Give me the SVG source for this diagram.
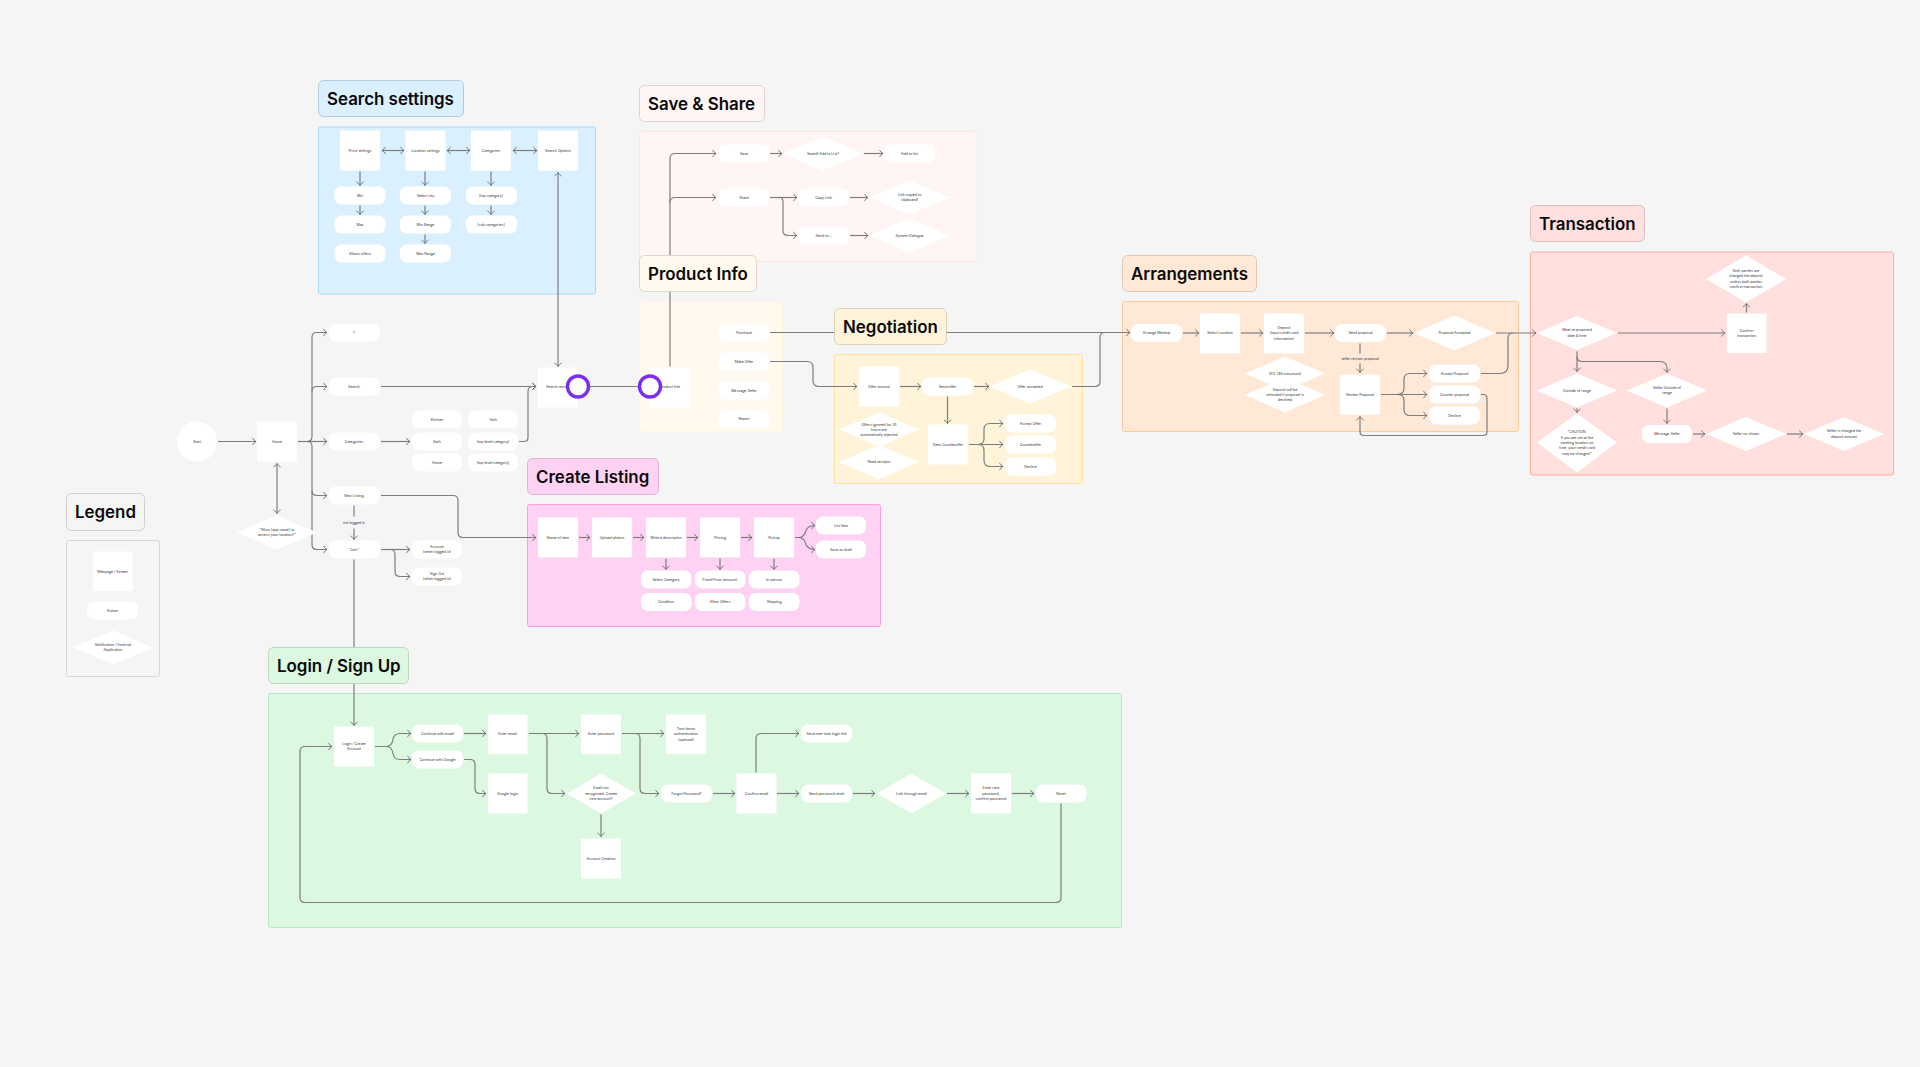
<svg xmlns="http://www.w3.org/2000/svg" width="1920" height="1067" viewBox="0 0 1920 1067">
<defs>
<marker id="a" markerUnits="userSpaceOnUse" markerWidth="6" markerHeight="10" refX="4.6" refY="5" orient="auto-start-reverse"><path d="M1 1.4 Q2.6 4 4.6 5 Q2.6 6 1 8.6" fill="none" stroke="#6f6f6f" stroke-width="0.9"/></marker>
</defs>
<style>
text{font-family:Inter,"Noto Sans","Liberation Sans",sans-serif}
.t{font-size:3.55px;fill:#333;text-anchor:middle;dominant-baseline:central}
.h{font-size:16.9px;font-weight:600;fill:#0a0a0a;dominant-baseline:central;transform:translateY(.2px)}
.s,.p,.d,.c{fill:#fff}
.s{rx:1px}
.p{rx:7px}
.l{stroke-width:1;rx:5px}
.g{stroke-width:1;rx:2px}
#conn path{fill:none;stroke:#7d7d7d;stroke-width:1.2}
.e{marker-end:url(#a)}
.b{marker-start:url(#a);marker-end:url(#a)}
.o{fill:#fff;stroke:#7c2df0;stroke-width:3.4}
</style>
<rect width="1920" height="1067" fill="#f5f5f5"/>
<g id="panels">
<rect id="panel-search" class="g" x="318.500" y="127" width="277" height="167" fill="#dbf0ff" stroke="#a9d9fd"/>
<rect id="panel-save" class="g" x="639.500" y="131.500" width="338" height="130" fill="#fff5f4" stroke="#ffe6e3"/>
<rect id="panel-product" class="g" x="639.500" y="302.500" width="143" height="129" fill="#fffaed" stroke="#fff6df"/>
<rect id="panel-negotiation" class="g" x="834.500" y="354.500" width="248" height="129" fill="#fff4d9" stroke="#ffe09e"/>
<rect id="panel-arrangements" class="g" x="1122.500" y="301.500" width="396" height="130" fill="#ffe9d6" stroke="#fbcb9c"/>
<rect id="panel-transaction" class="g" x="1530.500" y="252" width="363" height="223" fill="#ffe0de" stroke="#ffa99c"/>
<rect id="panel-create" class="g" x="527.500" y="504.500" width="353" height="122" fill="#ffd2f3" stroke="#ff9fdc"/>
<rect id="panel-login" class="g" x="268.500" y="693.500" width="853" height="234" fill="#dcf8e0" stroke="#b7e8c2"/>
<rect id="panel-legend" class="g" x="66.500" y="540.500" width="93" height="136" fill="#f5f5f5" stroke="#d8d8d8"/>
</g>
<g id="conn" transform="translate(0 .5)">
<path class="b" d="M382 150H404"/>
<path class="b" d="M447 150H470"/>
<path class="b" d="M513 150H537"/>
<path class="e" d="M360 171V185"/>
<path class="e" d="M425 171V185"/>
<path class="e" d="M491 171V185"/>
<path class="e" d="M360 205V214"/>
<path class="e" d="M425 205V214"/>
<path class="e" d="M425 234V243"/>
<path class="e" d="M491 205V214"/>
<path class="b" d="M558 366V172"/>
<path d="M578 386H650"/>
<path class="e" d="M670 366V158Q670 153 675 153H716"/>
<path class="e" d="M670 202Q670 197 675 197H716"/>
<path class="e" d="M770 153H782"/>
<path class="e" d="M864 153H883"/>
<path class="e" d="M770 197H797"/>
<path class="e" d="M780 197Q783 197 783 202V230Q783 235 788 235H797"/>
<path class="e" d="M850 197H868"/>
<path class="e" d="M850 235H868"/>
<path class="e" d="M218 441H256"/>
<path class="b" d="M277 463V513"/>
<path class="e" d="M298 441H307Q312 441 312 436V337Q312 332 317 332H327"/>
<path class="e" d="M312 391Q312 386 317 386H327"/>
<path class="e" d="M298 441H327"/>
<path class="e" d="M307 441Q312 441 312 446V544Q312 549 317 549H327"/>
<path class="e" d="M312 490Q312 495 317 495H327"/>
<path class="e" d="M381 386H536"/>
<path class="e" d="M381 441H410"/>
<path class="e" d="M519 441H524Q528 441 528 437V391Q528 386 533 386H536"/>
<path class="e" d="M381 495H453Q458 495 458 500V532Q458 537 463 537H536"/>
<path d="M354 505V516"/>
<path class="e" d="M354 528V539"/>
<path class="e" d="M381 549H410"/>
<path class="e" d="M390 549Q395 549 395 554V571Q395 576 400 576H410"/>
<path class="e" d="M354 559V725"/>
<path class="e" d="M770 332H1130"/>
<path class="e" d="M770 361H807Q813 361 813 367V380Q813 386 819 386H857"/>
<path class="e" d="M900 386H921"/>
<path class="e" d="M974 386H989"/>
<path class="e" d="M947.500 396V423"/>
<path d="M1072 386H1095Q1100 386 1100 381V337Q1100 332 1105 332"/>
<path class="e" d="M969 444H1003"/>
<path class="e" d="M978 444Q984 444 984 438V429Q984 423 990 423H1003"/>
<path class="e" d="M978 444Q984 444 984 450V460Q984 466 990 466H1003"/>
<path class="e" d="M1183 332.500H1199"/>
<path class="e" d="M1241 332.500H1263"/>
<path class="e" d="M1305 332.500H1334"/>
<path class="e" d="M1387 332.500H1413"/>
<path d="M1360 343V353"/>
<path class="e" d="M1360 363V372"/>
<path class="e" d="M1381 394H1427"/>
<path class="e" d="M1397 394Q1404 394 1404 388V379Q1404 373 1410 373H1427"/>
<path class="e" d="M1397 394Q1404 394 1404 400V409Q1404 415 1410 415H1427"/>
<path d="M1481 373H1500Q1508 373 1508 365V338Q1508 332.500 1513 332.500"/>
<path class="e" d="M1496 332.500H1536"/>
<path class="e" d="M1481 394H1483Q1487 394 1487 398V431Q1487 435 1483 435H1364Q1360 435 1360 431V416"/>
<path class="e" d="M1618 332.500H1725"/>
<path class="e" d="M1746.500 312V303"/>
<path class="e" d="M1577 351V371"/>
<path class="e" d="M1577 356Q1577 361 1582 361H1660Q1667 361 1667 368V372"/>
<path class="e" d="M1577 408V412"/>
<path class="e" d="M1667 408V423"/>
<path class="e" d="M1693 433.500H1705"/>
<path class="e" d="M1787 433.500H1803"/>
<path class="e" d="M579 537H590"/>
<path class="e" d="M633 537H644"/>
<path class="e" d="M687 537H698"/>
<path class="e" d="M741 537H752"/>
<path class="e" d="M666 558V569"/>
<path class="e" d="M720 558V569"/>
<path class="e" d="M774 558V569"/>
<path class="e" d="M795 537H799Q804 537 806 530Q808 525 815 525"/>
<path class="e" d="M795 537H799Q804 537 806 544Q808 549 815 549"/>
<path class="e" d="M375 746H386Q392 746 393 739Q394 733 400 733H411"/>
<path class="e" d="M375 746H386Q392 746 393 753Q394 759 400 759H411"/>
<path class="e" d="M464 733H486"/>
<path class="e" d="M464 759H470Q475 759 475 764V788Q475 793 480 793H486"/>
<path class="e" d="M529 733H579"/>
<path class="e" d="M542 733Q547 733 547 738V788Q547 793 552 793H565"/>
<path class="e" d="M622 733H664"/>
<path class="e" d="M635 733Q640 733 640 738V788Q640 793 645 793H659"/>
<path class="e" d="M713 793H735"/>
<path class="e" d="M756 772V738Q756 733 761 733H799"/>
<path class="e" d="M777 793H799"/>
<path class="e" d="M853 793H875"/>
<path class="e" d="M947 793H969"/>
<path class="e" d="M1012 793H1034"/>
<path class="e" d="M1061 803V897Q1061 902 1056 902H305Q300 902 300 897V751Q300 746 305 746H332"/>
<path class="e" d="M601 814V836"/>
</g>
<g id="label-search"><rect class="l" x="318.500" y="80.500" width="145" height="36" fill="#dbf0ff" stroke="#b5cbdb"/><text class="h" x="327" y="99">Search settings</text></g>
<g id="label-save"><rect class="l" x="639.500" y="85.500" width="125" height="36" fill="#fff5f4" stroke="#dcd3d2"/><text class="h" x="648" y="104">Save &amp; Share</text></g>
<g id="label-product"><rect class="l" x="639.500" y="255.500" width="117" height="36" fill="#fffaed" stroke="#dcd8cb"/><text class="h" x="648" y="274">Product Info</text></g>
<g id="label-negotiation"><rect class="l" x="834.500" y="308.500" width="112" height="36" fill="#fff4d9" stroke="#dcd2ba"/><text class="h" x="843" y="327">Negotiation</text></g>
<g id="label-arrangements"><rect class="l" x="1122.500" y="255.500" width="134" height="36" fill="#ffe9d6" stroke="#dcc8b7"/><text class="h" x="1131" y="274">Arrangements</text></g>
<g id="label-transaction"><rect class="l" x="1530.500" y="205.500" width="114" height="36" fill="#ffe0de" stroke="#dcc0be"/><text class="h" x="1539" y="224">Transaction</text></g>
<g id="label-create"><rect class="l" x="527.500" y="458.500" width="131" height="36" fill="#ffd2f3" stroke="#dcb5d2"/><text class="h" x="536" y="477">Create Listing</text></g>
<g id="label-login"><rect class="l" x="268.500" y="647.500" width="140" height="36" fill="#dcf8e0" stroke="#bdd6c1"/><text class="h" x="277" y="666">Login / Sign Up</text></g>
<g id="label-legend"><rect class="l" x="66.500" y="493.500" width="78" height="37" fill="#f5f5f5" stroke="#d0d0d0"/><text class="h" x="75" y="512">Legend</text></g>
<g id="nodes" transform="translate(0 .5)">
<g id="n-price"><rect class="s" x="340" y="130" width="40" height="40"/><text class="t" x="360" y="150">Price settings</text></g>
<g id="n-location"><rect class="s" x="405.500" y="130" width="40" height="40"/><text class="t" x="425.500" y="150">Location settings</text></g>
<g id="n-categories-s"><rect class="s" x="471" y="130" width="40" height="40"/><text class="t" x="491" y="150">Categories</text></g>
<g id="n-search-options"><rect class="s" x="538" y="130" width="40" height="40"/><text class="t" x="558" y="150">Search Options</text></g>
<g id="n-min"><rect class="p" x="334.500" y="186" width="51" height="18"/><text class="t" x="360" y="195">Min</text></g>
<g id="n-max"><rect class="p" x="334.500" y="215" width="51" height="18"/><text class="t" x="360" y="224">Max</text></g>
<g id="n-allows"><rect class="p" x="334.500" y="244" width="51" height="18"/><text class="t" x="360" y="253">Allows offers</text></g>
<g id="n-city"><rect class="p" x="400" y="186" width="51" height="18"/><text class="t" x="425.500" y="195">Select city</text></g>
<g id="n-minrange"><rect class="p" x="400" y="215" width="51" height="18"/><text class="t" x="425.500" y="224">Min Range</text></g>
<g id="n-maxrange"><rect class="p" x="400" y="244" width="51" height="18"/><text class="t" x="425.500" y="253">Max Range</text></g>
<g id="n-topcat"><rect class="p" x="466" y="186" width="51" height="18"/><text class="t" x="491" y="195">[top category]</text></g>
<g id="n-subcat"><rect class="p" x="466" y="215" width="51" height="18"/><text class="t" x="491" y="224">[sub categories]</text></g>
<g id="n-save"><rect class="p" x="718.500" y="144" width="51" height="18"/><text class="t" x="744" y="153">Save</text></g>
<g id="n-saved"><polygon class="d" points="783,153 823,136 863,153 823,170"/><text class="t" x="823" y="153">Saved! Add to List?</text></g>
<g id="n-addlist"><rect class="p" x="884" y="144" width="51" height="18"/><text class="t" x="909.500" y="153">Add to list</text></g>
<g id="n-share"><rect class="p" x="718.500" y="188" width="51" height="18"/><text class="t" x="744" y="197">Share</text></g>
<g id="n-copy"><rect class="p" x="798" y="188" width="51" height="18"/><text class="t" x="823.500" y="197">Copy Link</text></g>
<g id="n-copied"><polygon class="d" points="869.500,197 909.500,180 949.500,197 909.500,214"/><text class="t" x="909.500" y="194.300">Link copied to</text><text class="t" x="909.500" y="199.700">clipboard!</text></g>
<g id="n-send"><rect class="p" x="798" y="226" width="51" height="18"/><text class="t" x="823.500" y="235">Send to...</text></g>
<g id="n-system"><polygon class="d" points="869.500,235 909.500,218 949.500,235 909.500,252"/><text class="t" x="909.500" y="235">System Dialogue</text></g>
<g id="n-start"><circle class="c" cx="197" cy="441" r="20"/><text class="t" x="197" y="441">Start</text></g>
<g id="n-home"><rect class="s" x="257" y="421" width="40" height="40"/><text class="t" x="277" y="441">Home</text></g>
<g id="n-allow"><polygon class="d" points="237,532 277,515 317,532 277,549"/><text class="t" x="277" y="529.300">"Allow [app name] to</text><text class="t" x="277" y="534.700">access your location?"</text></g>
<g id="n-q"><rect class="p" x="329" y="323" width="51" height="18"/><text class="t" x="354" y="332">?</text></g>
<g id="n-search"><rect class="p" x="329" y="377" width="51" height="18"/><text class="t" x="354" y="386">Search</text></g>
<g id="n-categories"><rect class="p" x="329" y="432" width="51" height="18"/><text class="t" x="354" y="441">Categories</text></g>
<g id="n-newlisting"><rect class="p" x="329" y="486" width="51" height="18"/><text class="t" x="354" y="495">New Listing</text></g>
<g id="n-join"><rect class="p" x="329" y="540" width="51" height="18"/><text class="t" x="354" y="549">"Join"</text></g>
<text class="t" x="354" y="522">not logged in</text>
<g id="n-kitchen"><rect class="p" x="412" y="410" width="50" height="18"/><text class="t" x="437" y="419">Kitchen</text></g>
<g id="n-bath"><rect class="p" x="412" y="432" width="50" height="18"/><text class="t" x="437" y="441">Bath</text></g>
<g id="n-home2"><rect class="p" x="412" y="453" width="50" height="18"/><text class="t" x="437" y="462">Home</text></g>
<g id="n-tech"><rect class="p" x="468" y="410" width="50" height="18"/><text class="t" x="493" y="419">Tech</text></g>
<g id="n-top1"><rect class="p" x="468" y="432" width="50" height="18"/><text class="t" x="493" y="441">[top level category]</text></g>
<g id="n-top2"><rect class="p" x="468" y="453" width="50" height="18"/><text class="t" x="493" y="462">[top level category]</text></g>
<g id="n-account"><rect class="p" x="412" y="540" width="50" height="18"/><text class="t" x="437" y="546.300">Account</text><text class="t" x="437" y="551.700">(when logged in)</text></g>
<g id="n-signout"><rect class="p" x="412" y="567" width="50" height="18"/><text class="t" x="437" y="573.300">Sign Out</text><text class="t" x="437" y="578.700">(when logged in)</text></g>
<g id="n-results"><rect class="s" x="538" y="367" width="40" height="40"/><text class="t" x="558" y="386.500">Search results</text></g>
<g id="n-info"><rect class="s" x="650" y="367" width="40" height="40"/><text class="t" x="670" y="386.500">Product Info</text></g>
<circle class="o" cx="578" cy="386" r="10.500"/>
<circle class="o" cx="650" cy="386" r="10.500"/>
<g id="n-purchase"><rect class="p" x="718.500" y="323" width="51" height="18"/><text class="t" x="744" y="332">Purchase</text></g>
<g id="n-offer"><rect class="p" x="718.500" y="352" width="51" height="18"/><text class="t" x="744" y="361">Make Offer</text></g>
<g id="n-message"><rect class="p" x="718.500" y="381" width="51" height="18"/><text class="t" x="744" y="390">Message Seller</text></g>
<g id="n-report"><rect class="p" x="718.500" y="409.500" width="51" height="18"/><text class="t" x="744" y="418.500">Report</text></g>
<g id="n-amount"><rect class="s" x="859" y="366" width="40" height="40"/><text class="t" x="879" y="386">Offer amount</text></g>
<g id="n-sendoffer"><rect class="p" x="922" y="377" width="51" height="18"/><text class="t" x="947.500" y="386">Send offer</text></g>
<g id="n-accepted"><polygon class="d" points="990,386 1030,369 1071,386 1030,403"/><text class="t" x="1030" y="386">Offer accepted</text></g>
<g id="n-ignored"><polygon class="d" points="839,429 879,412 919,429 879,446"/><text class="t" x="879" y="424">Offers ignored for 24</text><text class="t" x="879" y="429.300">hours are</text><text class="t" x="879" y="434.600">automatically rejected</text></g>
<g id="n-receipts"><polygon class="d" points="839,461.500 879,444.500 919,461.500 879,478.500"/><text class="t" x="879" y="461.500">Read receipts</text></g>
<g id="n-view"><rect class="s" x="928" y="424" width="40" height="40"/><text class="t" x="948" y="444">View Counteroffer</text></g>
<g id="n-accept"><rect class="p" x="1005" y="414" width="51" height="18"/><text class="t" x="1030.500" y="423">Accept Offer</text></g>
<g id="n-counter"><rect class="p" x="1005" y="435" width="51" height="18"/><text class="t" x="1030.500" y="444">Counteroffer</text></g>
<g id="n-decline"><rect class="p" x="1005" y="457" width="51" height="18"/><text class="t" x="1030.500" y="466">Decline</text></g>
<g id="n-meetup"><rect class="p" x="1131" y="323.500" width="51" height="18"/><text class="t" x="1156.500" y="332.500">Arrange Meetup</text></g>
<g id="n-selectloc"><rect class="s" x="1200" y="313" width="40" height="40"/><text class="t" x="1220" y="332.500">Select Location</text></g>
<g id="n-deposit"><rect class="s" x="1264" y="313" width="40" height="40"/><text class="t" x="1284" y="327">Deposit</text><text class="t" x="1284" y="332.500">(input credit card</text><text class="t" x="1284" y="338">information)</text></g>
<g id="n-sendprop"><rect class="p" x="1335" y="323.500" width="51" height="18"/><text class="t" x="1360.500" y="332.500">Send proposal</text></g>
<g id="n-propacc"><polygon class="d" points="1414,332.500 1454.500,315 1495,332.500 1454.500,350"/><text class="t" x="1454.500" y="332.500">Proposal Accepted</text></g>
<g id="n-ten"><polygon class="d" points="1245,373 1285,356 1325,373 1285,390"/><text class="t" x="1285" y="373">10% ($5 minumum)</text></g>
<g id="n-refund"><polygon class="d" points="1245,394.500 1285,377 1325,394.500 1285,412"/><text class="t" x="1285" y="389">Deposit will be</text><text class="t" x="1285" y="394.300">refunded if proposal is</text><text class="t" x="1285" y="399.600">declined</text></g>
<text class="t" x="1360" y="358">seller revises proposal</text>
<g id="n-review"><rect class="s" x="1340" y="374" width="40" height="40"/><text class="t" x="1360" y="394">Review Proposal</text></g>
<g id="n-acceptp"><rect class="p" x="1429" y="364" width="51" height="18"/><text class="t" x="1454.500" y="373">Accept Proposal</text></g>
<g id="n-counterp"><rect class="p" x="1429" y="385" width="51" height="18"/><text class="t" x="1454.500" y="394">Counter proposal</text></g>
<g id="n-declinep"><rect class="p" x="1429" y="406" width="51" height="18"/><text class="t" x="1454.500" y="415">Decline</text></g>
<g id="n-meet"><polygon class="d" points="1537,332.500 1577,315.500 1617,332.500 1577,349.500"/><text class="t" x="1577" y="329.800">Meet at proposed</text><text class="t" x="1577" y="335.200">date &amp; time</text></g>
<g id="n-confirm"><rect class="s" x="1727" y="313" width="39.500" height="39.500"/><text class="t" x="1746.500" y="330">Confirm</text><text class="t" x="1746.500" y="335.400">transaction</text></g>
<g id="n-both"><polygon class="d" points="1706,278.500 1746,255 1786,278.500 1746,302"/><text class="t" x="1746" y="270.500">Both parties are</text><text class="t" x="1746" y="275.800">charged the deposit</text><text class="t" x="1746" y="281.100">unless both parties</text><text class="t" x="1746" y="286.400">confirm transaction</text></g>
<g id="n-outside"><polygon class="d" points="1537,390 1577,373 1617,390 1577,407"/><text class="t" x="1577" y="390">Outside of range</text></g>
<g id="n-caution"><polygon class="d" points="1537,442 1577,413 1617,442 1577,472"/><text class="t" x="1577" y="431.500">"CAUTION:</text><text class="t" x="1577" y="437">If you are not at the</text><text class="t" x="1577" y="442.300">meeting location on</text><text class="t" x="1577" y="447.800">time, your credit card</text><text class="t" x="1577" y="453.300">may be charged."</text></g>
<g id="n-selleroutside"><polygon class="d" points="1627,390 1667,373 1707,390 1667,407"/><text class="t" x="1667" y="387.300">Seller Outside of</text><text class="t" x="1667" y="392.700">range</text></g>
<g id="n-msgseller"><rect class="p" x="1642" y="424.500" width="50" height="18"/><text class="t" x="1667" y="433.500">Message Seller</text></g>
<g id="n-noshow"><polygon class="d" points="1706,433.500 1746,416.500 1786,433.500 1746,450.500"/><text class="t" x="1746" y="433.500">Seller no shows</text></g>
<g id="n-charged"><polygon class="d" points="1804,433.500 1844,416.500 1884,433.500 1844,450.500"/><text class="t" x="1844" y="430.800">Seller is charged the</text><text class="t" x="1844" y="436.200">deposit amount</text></g>
<g id="n-name"><rect class="s" x="538" y="517" width="40" height="40"/><text class="t" x="558" y="537">Name of item</text></g>
<g id="n-photos"><rect class="s" x="592" y="517" width="40" height="40"/><text class="t" x="612" y="537">Upload photos</text></g>
<g id="n-desc"><rect class="s" x="646" y="517" width="40" height="40"/><text class="t" x="666" y="537">Write a description</text></g>
<g id="n-pricing"><rect class="s" x="700" y="517" width="40" height="40"/><text class="t" x="720" y="537">Pricing</text></g>
<g id="n-pickup"><rect class="s" x="754" y="517" width="40" height="40"/><text class="t" x="774" y="537">Pickup</text></g>
<g id="n-list"><rect class="p" x="816" y="516" width="50" height="18"/><text class="t" x="841" y="525">List Item</text></g>
<g id="n-draft"><rect class="p" x="816" y="540" width="50" height="18"/><text class="t" x="841" y="549">Save as draft</text></g>
<g id="n-selcat"><rect class="p" x="641" y="570" width="50.500" height="18"/><text class="t" x="666" y="579">Select Category</text></g>
<g id="n-condition"><rect class="p" x="641" y="592.500" width="50.500" height="18"/><text class="t" x="666" y="601.500">Condition</text></g>
<g id="n-fixed"><rect class="p" x="695" y="570" width="50.500" height="18"/><text class="t" x="720" y="579">Fixed Price (amount)</text></g>
<g id="n-allow-offers"><rect class="p" x="695" y="592.500" width="50.500" height="18"/><text class="t" x="720" y="601.500">Allow Offers</text></g>
<g id="n-inperson"><rect class="p" x="749" y="570" width="50.500" height="18"/><text class="t" x="774" y="579">In-person</text></g>
<g id="n-shipping"><rect class="p" x="749" y="592.500" width="50.500" height="18"/><text class="t" x="774" y="601.500">Shipping</text></g>
<g id="n-login"><rect class="s" x="334" y="726" width="40" height="40"/><text class="t" x="354" y="743.300">Login / Create</text><text class="t" x="354" y="748.700">Account</text></g>
<g id="n-cemail"><rect class="p" x="412" y="724" width="51" height="18"/><text class="t" x="437.500" y="733">Continue with email</text></g>
<g id="n-cgoogle"><rect class="p" x="412" y="750" width="51" height="18"/><text class="t" x="437.500" y="759">Continue with Google</text></g>
<g id="n-email"><rect class="s" x="488" y="714" width="39.500" height="39.500"/><text class="t" x="507.500" y="733.500">Enter email</text></g>
<g id="n-google"><rect class="s" x="488" y="773" width="39.500" height="40"/><text class="t" x="507.500" y="793">Google login</text></g>
<g id="n-password"><rect class="s" x="581" y="714" width="40" height="39.500"/><text class="t" x="601" y="733.500">Enter password</text></g>
<g id="n-twofactor"><rect class="s" x="666" y="714" width="40" height="39.500"/><text class="t" x="686" y="728">Two-factor</text><text class="t" x="686" y="733.500">authentication</text><text class="t" x="686" y="739">(optional)</text></g>
<g id="n-notrec"><polygon class="d" points="567,793 601,773 636,793 601,813"/><text class="t" x="601" y="787.500">Email not</text><text class="t" x="601" y="793">recognized. Create</text><text class="t" x="601" y="798.500">new account?</text></g>
<g id="n-creation"><rect class="s" x="581" y="838" width="40" height="40"/><text class="t" x="601" y="858">Account Creation</text></g>
<g id="n-forgot"><rect class="p" x="661" y="784" width="51" height="18"/><text class="t" x="686.500" y="793">Forgot Password?</text></g>
<g id="n-confemail"><rect class="s" x="736.500" y="773" width="40" height="40"/><text class="t" x="756.500" y="793">Confirm email</text></g>
<g id="n-onetime"><rect class="p" x="801" y="724" width="51" height="18"/><text class="t" x="826.500" y="733">Send one-time login link</text></g>
<g id="n-reset-send"><rect class="p" x="801" y="784" width="51" height="18"/><text class="t" x="826.500" y="793">Send password reset</text></g>
<g id="n-link"><polygon class="d" points="877,793 911.500,773 946,793 911.500,813"/><text class="t" x="911.500" y="793">Link through email</text></g>
<g id="n-newpass"><rect class="s" x="971" y="773" width="40" height="40"/><text class="t" x="991" y="787.500">Enter new</text><text class="t" x="991" y="793">password,</text><text class="t" x="991" y="798.500">confirm password</text></g>
<g id="n-reset"><rect class="p" x="1036" y="784" width="50.500" height="18"/><text class="t" x="1061" y="793">Reset</text></g>
<g id="lg-page"><rect class="s" x="93" y="551" width="39.500" height="39.500"/><text class="t" x="112.500" y="571">Webpage / Screen</text></g>
<g id="lg-button"><rect class="p" x="87" y="601" width="51" height="18"/><text class="t" x="112.500" y="610">Button</text></g>
<g id="lg-notif"><polygon class="d" points="73,647 113,630 153,647 113,664"/><text class="t" x="113" y="644.300">Notification / External</text><text class="t" x="113" y="649.700">Application</text></g>
</g>
</svg>
